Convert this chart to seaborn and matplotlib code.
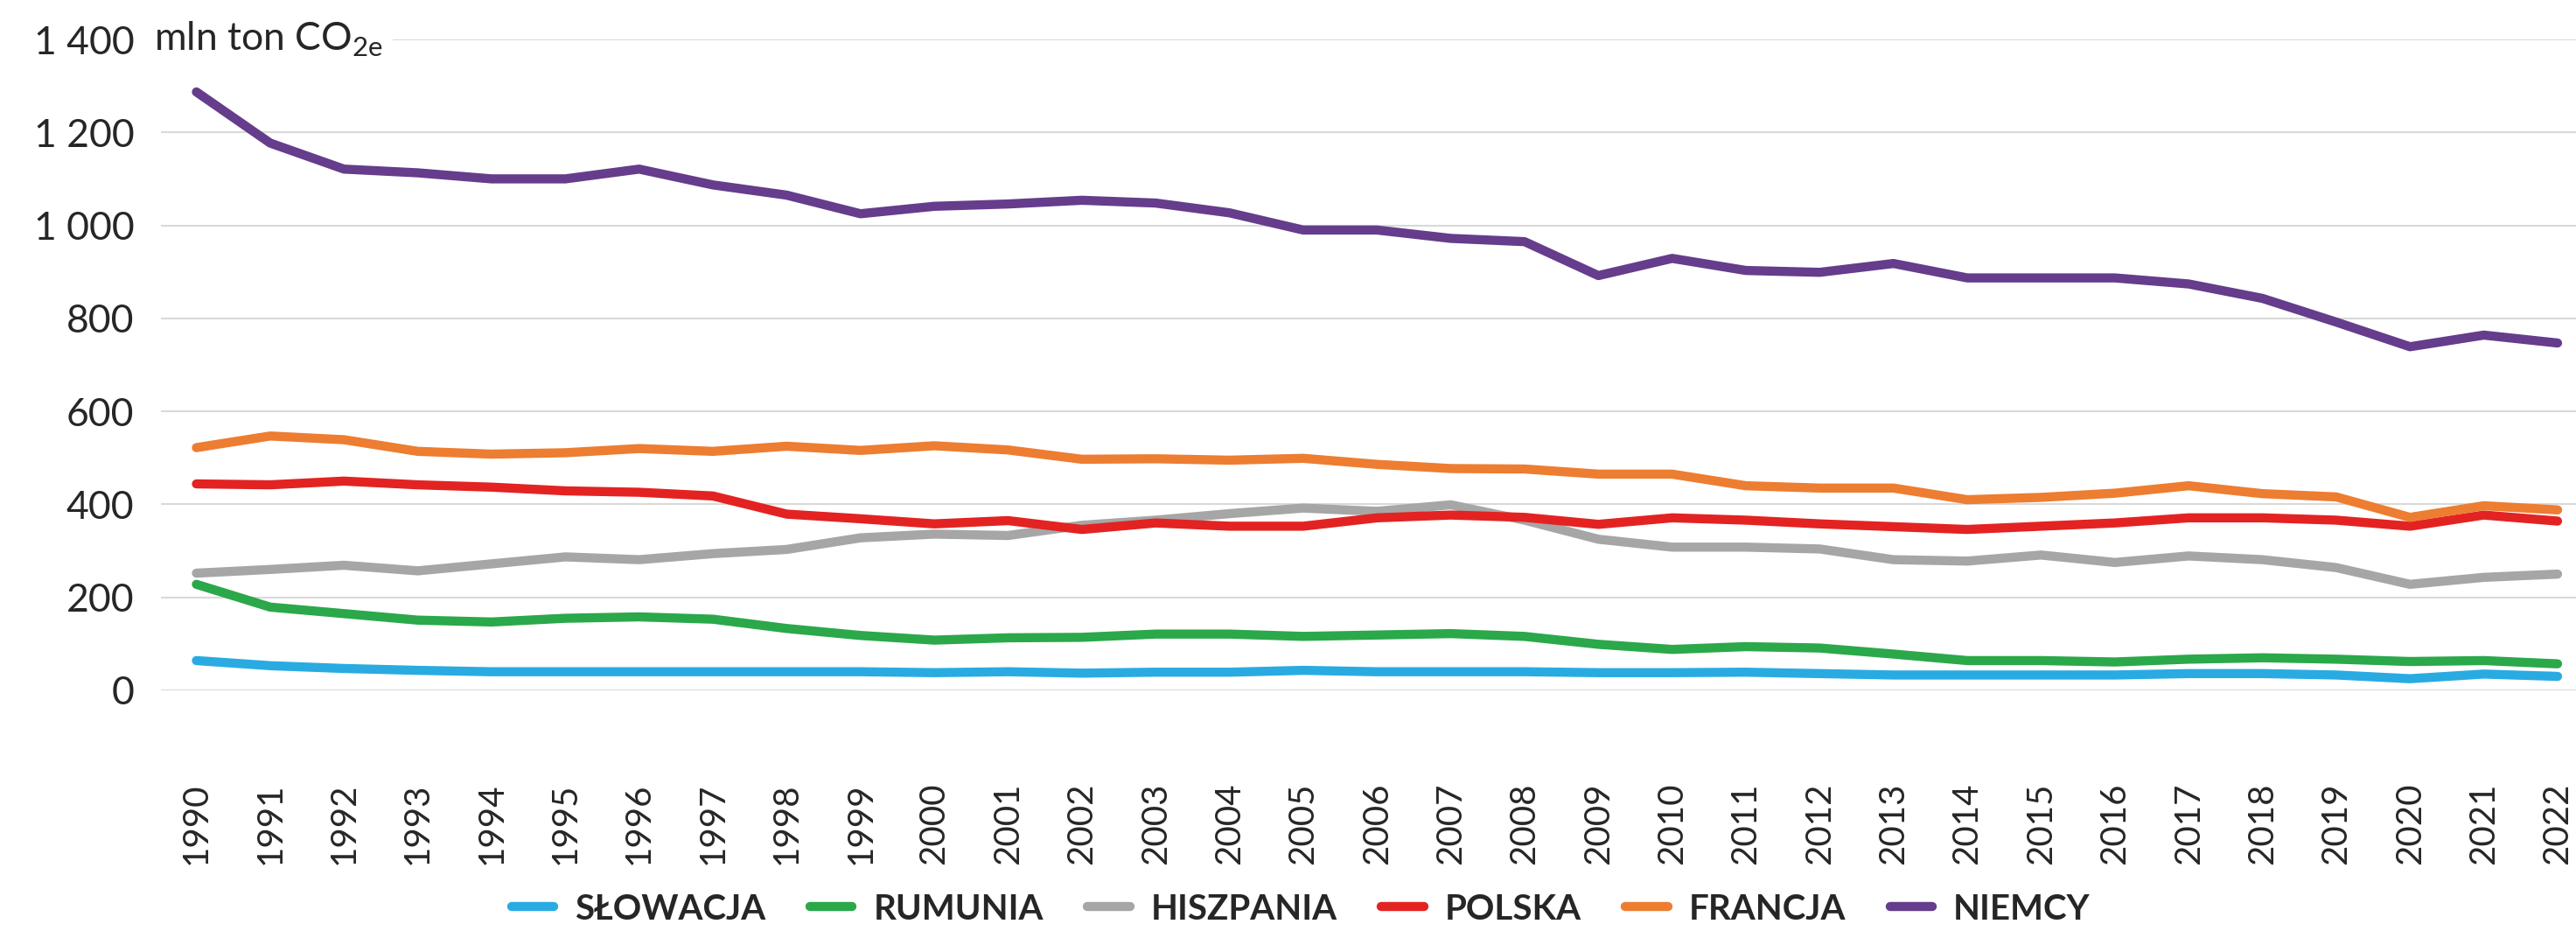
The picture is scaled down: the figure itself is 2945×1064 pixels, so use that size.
import pandas as pd
import seaborn as sns
import matplotlib.pyplot as plt

# dane: emisje gazow cieplarnianych, mln ton CO2e
years = list(range(1990, 2023))

slowacja = [64, 53, 47, 43, 40, 40, 40, 40, 40, 40,
            38, 40, 37, 39, 39, 43, 40, 40, 40, 38,
            38, 39, 36, 33, 33, 33, 33, 36, 36, 33,
            25, 35, 30]
rumunia = [228, 179, 165, 151, 147, 155, 158, 153, 133, 118,
           108, 113, 114, 121, 121, 116, 119, 122, 116, 99,
           88, 94, 91, 78, 64, 64, 61, 67, 70, 67,
           62, 64, 57]
hiszpania = [252, 260, 269, 257, 272, 287, 281, 294, 303, 328,
             336, 333, 355, 366, 380, 392, 385, 399, 366, 325,
             308, 308, 304, 281, 278, 291, 275, 289, 281, 264,
             228, 243, 250]
polska = [444, 442, 450, 442, 437, 429, 426, 418, 379, 369,
          358, 365, 346, 360, 353, 353, 371, 377, 372, 357,
          371, 366, 358, 352, 346, 353, 360, 371, 371, 366,
          353, 377, 364]
francja = [522, 547, 539, 514, 508, 511, 520, 514, 525, 516,
           526, 517, 497, 498, 495, 499, 486, 477, 476, 465,
           465, 440, 435, 435, 410, 415, 424, 440, 423, 416,
           372, 397, 388]
niemcy = [1287, 1177, 1121, 1113, 1100, 1100, 1121, 1087, 1065, 1025,
          1041, 1046, 1054, 1048, 1027, 990, 990, 972, 965, 892,
          929, 903, 899, 918, 887, 887, 887, 874, 843, 792,
          739, 764, 747]

countries = ['SŁOWACJA', 'RUMUNIA', 'HISZPANIA', 'POLSKA', 'FRANCJA', 'NIEMCY']
colors = ['#29ABE2', '#2BA84A', '#A6A6A6', '#E32322', '#ED7D31', '#663C8C']

df = pd.DataFrame({'rok': years, 'SŁOWACJA': slowacja, 'RUMUNIA': rumunia,
                   'HISZPANIA': hiszpania, 'POLSKA': polska,
                   'FRANCJA': francja, 'NIEMCY': niemcy})
df = df.melt(id_vars='rok', var_name='kraj', value_name='emisja')

sns.set_style("white")
plt.rcParams['font.family'] = ['Lato', 'DejaVu Sans']
plt.rcParams['mathtext.fontset'] = 'custom'
plt.rcParams['mathtext.rm'] = 'Lato'

fig = plt.figure(figsize=(29.45, 10.64), dpi=100)
ax = fig.add_axes([0.0625, 0.2585, 0.9375, 0.6992])

sns.lineplot(data=df, x='rok', y='emisja', hue='kraj', hue_order=countries,
             palette=dict(zip(countries, colors)), linewidth=7.5,
             solid_capstyle='round', legend=False, ax=ax)

ax.set_xlim(1989.52, 2022.25)
ax.set_ylim(0, 1400)
yt = [0, 200, 400, 600, 800, 1000, 1200, 1400]
ax.set_yticks(yt)
ax.set_yticklabels([f"{v:,}".replace(",", " ") for v in yt], fontsize=32)
ax.set_xticks(years)
ax.set_xticklabels([str(y) for y in years], rotation=90, fontsize=29)
ax.tick_params(axis='y', length=0, pad=22)
ax.tick_params(axis='x', length=0, pad=76)
ax.set_xlabel('')
ax.set_ylabel('')
ax.grid(axis='y', color='#D9D9D9', linewidth=1.5)
ax.grid(axis='x', visible=False)
for s in ax.spines.values():
    s.set_visible(False)

ax.text(-0.003, 1400, r"mln ton CO$_{\mathregular{2e}}$", fontsize=32,
        transform=ax.get_yaxis_transform(), ha='left', va='center',
        bbox=dict(facecolor='white', edgecolor='none', pad=8))

fig.legend(ax.lines, countries, loc='lower center', bbox_to_anchor=(0.505, -0.028),
           ncol=6, frameon=False, handlelength=1.2, handletextpad=0.6,
           columnspacing=1.25, prop={'weight': 'bold', 'size': 29})

fig.savefig('out.png', dpi=100)
